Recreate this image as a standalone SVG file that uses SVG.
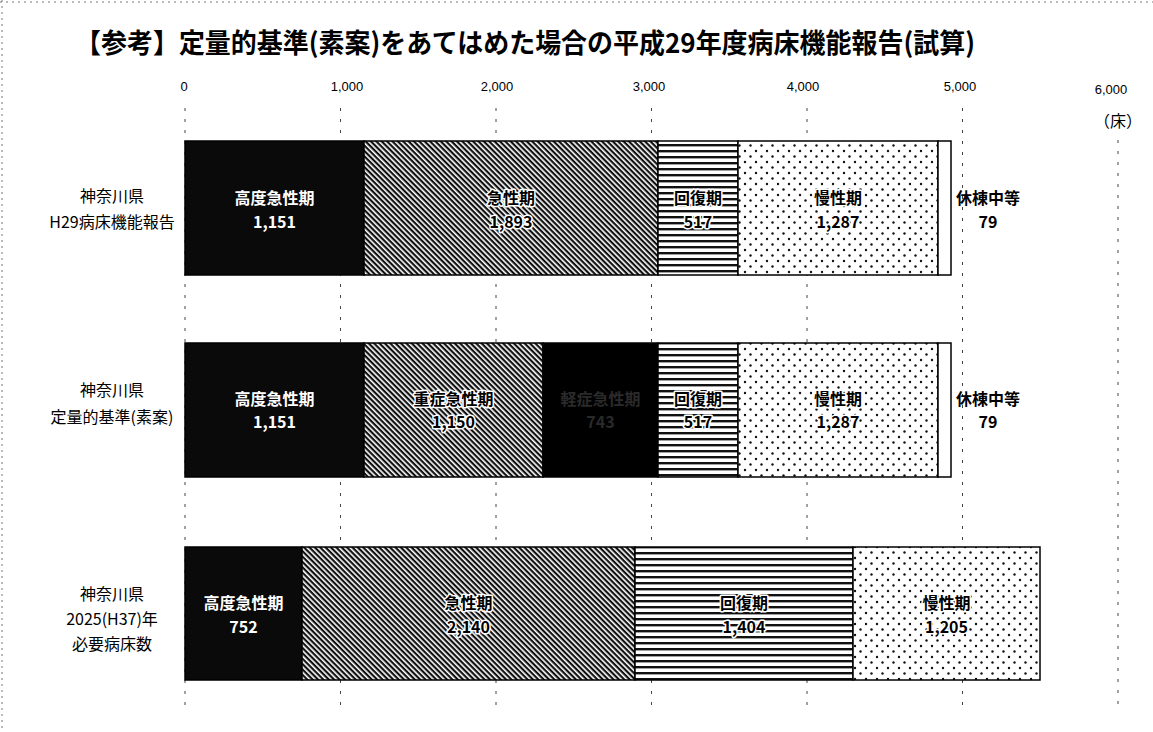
<svg xmlns="http://www.w3.org/2000/svg" width="1153" height="732" viewBox="0 0 1153 732">
<defs>
<pattern id="hatch" patternUnits="userSpaceOnUse" width="3.8" height="3.8" patternTransform="rotate(45)">
<rect width="3.8" height="3.8" fill="#fff"/>
<rect width="3.8" height="2.2" fill="#111"/>
</pattern>
<pattern id="hlines" patternUnits="userSpaceOnUse" width="10" height="6">
<rect width="10" height="6" fill="#fff"/>
<rect y="0" width="10" height="2.4" fill="#111"/>
</pattern>
<pattern id="dots" patternUnits="userSpaceOnUse" width="11" height="11">
<rect width="11" height="11" fill="#fff"/>
<circle cx="2.5" cy="2.5" r="1.2" fill="#111"/>
<circle cx="8" cy="8" r="1.2" fill="#111"/>
</pattern>
<style>
.title{font-family:"Noto Sans CJK JP","Noto Sans CJK SC",sans-serif;font-weight:bold;font-size:27px;fill:#000}
.ax{font-family:"Liberation Sans","Noto Sans",sans-serif;font-size:13px;fill:#000;text-anchor:middle}
.cat{font-family:"Noto Sans CJK JP",sans-serif;font-size:16px;fill:#000;text-anchor:middle}
.lb{font-family:"Noto Sans CJK JP",sans-serif;font-weight:bold;font-size:16px;text-anchor:middle}
.dk{fill:#000;stroke:#fff;stroke-width:3;paint-order:stroke;stroke-linejoin:round}
.wt{fill:#fff}
.faint{fill:#2a2a2a}
.out{fill:#000}
.seg{stroke:#000;stroke-width:1.5}
.grid{stroke:#444;stroke-width:1;stroke-dasharray:3 8;fill:none}
.frame{stroke:#777;stroke-width:1;stroke-dasharray:2 4;fill:none}
</style>
</defs>
<rect width="1153" height="732" fill="#fff"/>
<line class="frame" x1="2" y1="0" x2="2" y2="732"/>
<line class="frame" x1="0" y1="2" x2="1153" y2="2"/>
<text class="title" x="75" y="53" textLength="900" lengthAdjust="spacingAndGlyphs">【参考】定量的基準(素案)をあてはめた場合の平成29年度病床機能報告(試算)</text>
<g id="axis">
<text class="ax" x="184" y="91">0</text>
<text class="ax" x="347" y="91">1,000</text>
<text class="ax" x="497" y="91">2,000</text>
<text class="ax" x="649" y="91">3,000</text>
<text class="ax" x="803" y="91">4,000</text>
<text class="ax" x="960" y="91">5,000</text>
<text class="ax" x="1111" y="94">6,000</text>
<text x="1118" y="127" style="font-family:'Noto Sans CJK JP',sans-serif;font-size:16px;text-anchor:middle">（床）</text>
</g>
<g id="gridlines">
<line class="grid" x1="185" y1="108" x2="185" y2="708"/>
<line class="grid" x1="340.5" y1="108" x2="340.5" y2="708"/>
<line class="grid" x1="496" y1="108" x2="496" y2="708"/>
<line class="grid" x1="651.5" y1="108" x2="651.5" y2="708"/>
<line class="grid" x1="807" y1="108" x2="807" y2="708"/>
<line class="grid" x1="962.5" y1="108" x2="962.5" y2="708"/>
<line class="grid" x1="1118" y1="140" x2="1118" y2="708"/>
</g>
<g id="bar1">
<text class="cat" x="112" y="202">神奈川県</text>
<text class="cat" x="112" y="228">H29病床機能報告</text>
<rect class="seg" x="185" y="141" width="179" height="134" fill="#0a0a0a"/>
<rect class="seg" x="364" y="141" width="294" height="134" fill="url(#hatch)"/>
<rect class="seg" x="658" y="141" width="80" height="134" fill="url(#hlines)"/>
<rect class="seg" x="738" y="141" width="200" height="134" fill="url(#dots)"/>
<rect class="seg" x="938" y="141" width="13" height="134" fill="#fff"/>
<text class="lb wt" x="274.5" y="204">高度急性期</text>
<text class="lb wt" x="274.5" y="228">1,151</text>
<text class="lb dk" x="511" y="204">急性期</text>
<text class="lb dk" x="511" y="228">1,893</text>
<text class="lb dk" x="698" y="204">回復期</text>
<text class="lb dk" x="698" y="228">517</text>
<text class="lb dk" x="838" y="204">慢性期</text>
<text class="lb dk" x="838" y="228">1,287</text>
<text class="lb out" x="988" y="204">休棟中等</text>
<text class="lb out" x="988" y="228">79</text>
</g>
<g id="bar2">
<text class="cat" x="112" y="396">神奈川県</text>
<text class="cat" x="112" y="423">定量的基準(素案)</text>
<rect class="seg" x="185" y="343" width="179" height="134" fill="#0a0a0a"/>
<rect class="seg" x="364" y="343" width="179" height="134" fill="url(#hatch)"/>
<rect class="seg" x="543" y="343" width="115" height="134" fill="#000"/>
<rect class="seg" x="658" y="343" width="80" height="134" fill="url(#hlines)"/>
<rect class="seg" x="738" y="343" width="200" height="134" fill="url(#dots)"/>
<rect class="seg" x="938" y="343" width="13" height="134" fill="#fff"/>
<text class="lb wt" x="274.5" y="405">高度急性期</text>
<text class="lb wt" x="274.5" y="428">1,151</text>
<text class="lb dk" x="453.5" y="405">重症急性期</text>
<text class="lb dk" x="453.5" y="428">1,150</text>
<text class="lb faint" x="600.5" y="405">軽症急性期</text>
<text class="lb faint" x="600.5" y="428">743</text>
<text class="lb dk" x="698" y="405">回復期</text>
<text class="lb dk" x="698" y="428">517</text>
<text class="lb dk" x="838" y="405">慢性期</text>
<text class="lb dk" x="838" y="428">1,287</text>
<text class="lb out" x="988" y="405">休棟中等</text>
<text class="lb out" x="988" y="428">79</text>
</g>
<g id="bar3">
<text class="cat" x="112" y="600">神奈川県</text>
<text class="cat" x="112" y="625">2025(H37)年</text>
<text class="cat" x="112" y="650">必要病床数</text>
<rect class="seg" x="185" y="547" width="117" height="133" fill="#0a0a0a"/>
<rect class="seg" x="302" y="547" width="333" height="133" fill="url(#hatch)"/>
<rect class="seg" x="635" y="547" width="218" height="133" fill="url(#hlines)"/>
<rect class="seg" x="853" y="547" width="187" height="133" fill="url(#dots)"/>
<text class="lb wt" x="243.5" y="609">高度急性期</text>
<text class="lb wt" x="243.5" y="633">752</text>
<text class="lb dk" x="468.5" y="609">急性期</text>
<text class="lb dk" x="468.5" y="633">2,140</text>
<text class="lb dk" x="744" y="609">回復期</text>
<text class="lb dk" x="744" y="633">1,404</text>
<text class="lb dk" x="946.5" y="609">慢性期</text>
<text class="lb dk" x="946.5" y="633">1,205</text>
</g>
</svg>
